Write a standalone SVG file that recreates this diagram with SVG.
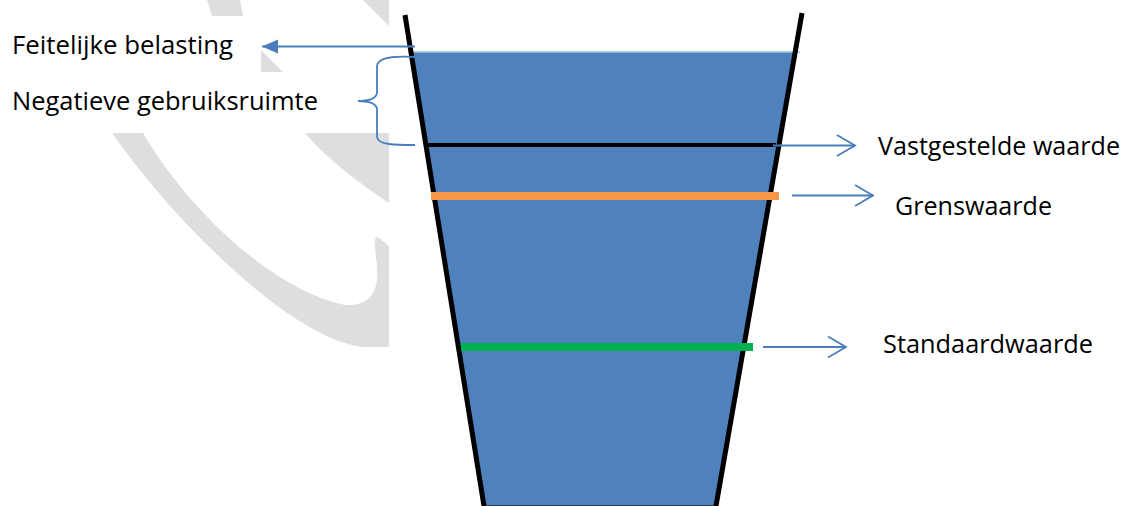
<svg xmlns="http://www.w3.org/2000/svg" width="1132" height="506" viewBox="0 0 1132 506">
<style>
.wm{fill:#dedede;stroke:none}
.lbl{font-family:"Open Sans","Liberation Sans",sans-serif;font-size:25px;fill:#000}
.con{stroke:#4a7ebb;stroke-width:1.8;fill:none}
.wall{stroke:#000;stroke-width:5;stroke-linecap:butt;fill:none}
</style>
<defs>
<marker id="filled" markerUnits="userSpaceOnUse" markerWidth="18" markerHeight="16" refX="16" refY="7" orient="auto" overflow="visible">
<path d="M0,0 L16,7 L0,14 Z" fill="#4a7ebb"/>
</marker>
<marker id="open" markerUnits="userSpaceOnUse" markerWidth="22" markerHeight="24" refX="18" refY="10.5" orient="auto" overflow="visible">
<path d="M0,0 L18,10.5 L0,21" fill="none" stroke="#4a7ebb" stroke-width="1.8"/>
</marker>
</defs>
<rect width="1132" height="506" fill="#fff"/>
<g id="watermark">
<path class="wm" d="M207,0 L240,0 L243,16 L212,16 Z"/>
<path class="wm" d="M363,0 L389,0 L389,26 Z"/>
<path class="wm" d="M261,50 L261,72 L283,72 Z"/>
<path class="wm" d="M112,133 L143,133 C185,205 270,290 345,305 C372,306 381,290 376,258 C375,246 373,237 378,237 L389,246 L389,347 L367,347 C300,345 180,230 112,133 Z"/>
<path class="wm" d="M305,133 L389,133 L389,203 C358,182 330,162 305,133 Z"/>
</g>
<g id="glass">
<polygon points="411,52 796,52 716,506 484,506" fill="#4f81bd"/>
<line x1="484" y1="505.5" x2="716" y2="505.5" stroke="#243f60" stroke-width="1"/>
<line x1="413" y1="52" x2="800" y2="52" stroke="#93cddd" stroke-width="1.6"/>
<line class="wall" x1="405" y1="15" x2="484" y2="506"/>
<line class="wall" x1="802" y1="13" x2="716" y2="506"/>
</g>
<g id="level-vastgesteld"><line x1="426" y1="145" x2="776" y2="145" stroke="#000" stroke-width="4"/></g>
<g id="level-grens"><line x1="431" y1="196" x2="779" y2="196" stroke="#f79646" stroke-width="8"/></g>
<g id="level-standaard"><line x1="461" y1="347" x2="753" y2="347" stroke="#00b050" stroke-width="8"/></g>
<g id="brace"><path class="con" d="M415,57 C395,56 378,57 377,66 L377,93 C376,99 368,101 358,101 C368,101 376,103 377,109 L377,137 C378,145 395,145 415,145"/></g>
<g id="connectors">
<line class="con" x1="415" y1="46.5" x2="262" y2="46.5" marker-end="url(#filled)"/>
<line class="con" x1="773" y1="145.5" x2="855" y2="145.5" marker-end="url(#open)"/>
<line class="con" x1="792" y1="195.5" x2="873" y2="195.5" marker-end="url(#open)"/>
<line class="con" x1="763" y1="347" x2="846" y2="347" marker-end="url(#open)"/>
</g>
<g id="label-feitelijk"><text class="lbl" x="12" y="54" textLength="221" lengthAdjust="spacingAndGlyphs">Feitelijke belasting</text></g>
<g id="label-negatief"><text class="lbl" x="12" y="110" textLength="306" lengthAdjust="spacingAndGlyphs">Negatieve gebruiksruimte</text></g>
<g id="label-vastgesteld"><text class="lbl" x="878" y="155" textLength="242" lengthAdjust="spacingAndGlyphs">Vastgestelde waarde</text></g>
<g id="label-grens"><text class="lbl" x="895" y="215" textLength="157" lengthAdjust="spacingAndGlyphs">Grenswaarde</text></g>
<g id="label-standaard"><text class="lbl" x="883" y="353" textLength="210" lengthAdjust="spacingAndGlyphs">Standaardwaarde</text></g>
</svg>
